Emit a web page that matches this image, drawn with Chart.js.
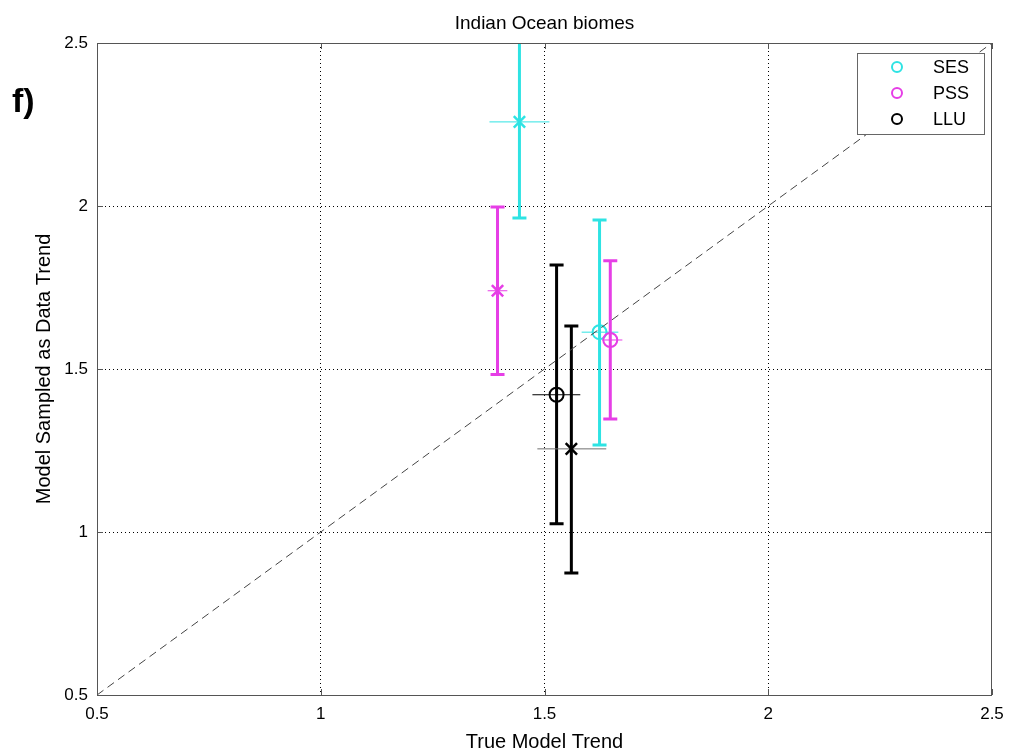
<!DOCTYPE html>
<html>
<head>
<meta charset="utf-8">
<script src="https://cdn.jsdelivr.net/npm/chart.js@4"></script>
<style>
  html, body { margin: 0; padding: 0; background: #fff; }
  #wrap { width: 1010px; height: 754px; position: relative; }
</style>
</head>
<body>
<div id="wrap"><canvas id="chart"></canvas></div>
<script>
// Indian Ocean biomes - true vs sampled trend

const seriesNames = ['SES', 'PSS', 'LLU'];
const seriesColors = ['#2ee3e3', '#e63ee6', '#000000'];

// circle markers (o)
const circleX = [1.623, 1.647, 1.527];
const circleY = [1.613, 1.589, 1.421];
const circleXLo = [1.583, 1.629, 1.473];
const circleXHi = [1.665, 1.674, 1.580];
const circleYLo = [1.267, 1.347, 1.025];
const circleYHi = [1.957, 1.832, 1.819];

// cross markers (x)
const crossX = [1.444, 1.395, 1.560];
const crossY = [2.258, 1.740, 1.255];
const crossXLo = [1.377, 1.373, 1.484];
const crossXHi = [1.511, 1.417, 1.638];
const crossYLo = [1.963, 1.483, 0.874];
const crossYHi = [2.557, 1.997, 1.632];

const axisTicks = [0.5, 1, 1.5, 2, 2.5];

const FONT = 'Liberation Sans, Arial, Helvetica, sans-serif';

// error bars drawn through the chart scales
const errorBars = {
  id: 'errorBars',
  beforeDatasetsDraw(chart) {
    const { ctx, chartArea: a, scales: { x, y } } = chart;
    ctx.save();
    ctx.beginPath();
    ctx.rect(a.left, a.top, a.right - a.left, a.bottom - a.top);
    ctx.clip();
    const groups = [
      [circleX, circleY, circleXLo, circleXHi, circleYLo, circleYHi],
      [crossX, crossY, crossXLo, crossXHi, crossYLo, crossYHi]
    ];
    groups.forEach(([gx, gy, xlo, xhi, ylo, yhi], gi) => {
      seriesNames.forEach((n, i) => {
        const px = x.getPixelForValue(gx[i]);
        const py = y.getPixelForValue(gy[i]);
        // horizontal (thin, no caps)
        ctx.strokeStyle = (i === 2 && gi === 1) ? '#707070' : seriesColors[i];
        ctx.lineWidth = 1;
        ctx.beginPath();
        ctx.moveTo(x.getPixelForValue(xlo[i]), py);
        ctx.lineTo(x.getPixelForValue(xhi[i]), py);
        ctx.stroke();
        // vertical (thick, with caps)
        const t = y.getPixelForValue(yhi[i]);
        const b = y.getPixelForValue(ylo[i]);
        ctx.strokeStyle = seriesColors[i];
        ctx.lineWidth = 3;
        ctx.beginPath();
        ctx.moveTo(px, t); ctx.lineTo(px, b);
        ctx.moveTo(px - 7, t); ctx.lineTo(px + 7, t);
        ctx.moveTo(px - 7, b); ctx.lineTo(px + 7, b);
        ctx.stroke();
      });
    });
    ctx.restore();
  }
};

// box, inner tick marks, title, legend and panel label
const decorations = {
  id: 'decorations',
  afterDraw(chart) {
    const { ctx, chartArea: a, scales: { x, y } } = chart;
    ctx.save();
    ctx.strokeStyle = '#555';
    ctx.lineWidth = 1;
    ctx.strokeRect(a.left + 0.5, a.top + 0.5, a.right - a.left - 1, a.bottom - a.top);
    ctx.beginPath();
    axisTicks.forEach(v => {
      const px = Math.round(x.getPixelForValue(v)) + 0.5;
      ctx.moveTo(px, a.top); ctx.lineTo(px, a.top + 6);
      ctx.moveTo(px, a.bottom); ctx.lineTo(px, a.bottom - 6);
      const py = Math.round(y.getPixelForValue(v)) + 0.5;
      ctx.moveTo(a.left, py); ctx.lineTo(a.left + 6, py);
      ctx.moveTo(a.right, py); ctx.lineTo(a.right - 6, py);
    });
    ctx.stroke();

    // title over the plot area
    ctx.fillStyle = '#000';
    ctx.font = '19px ' + FONT;
    ctx.textAlign = 'center';
    ctx.textBaseline = 'alphabetic';
    ctx.fillText('Indian Ocean biomes', (a.left + a.right) / 2, 29);

    // legend
    const lx = 857, ly = 53, lw = 127, lh = 81;
    ctx.fillStyle = '#fff';
    ctx.fillRect(lx, ly, lw, lh);
    ctx.strokeStyle = '#666';
    ctx.strokeRect(lx + 0.5, ly + 0.5, lw, lh);
    ctx.font = '18px ' + FONT;
    ctx.textBaseline = 'middle';
    ctx.textAlign = 'left';
    seriesNames.forEach((n, i) => {
      const cy = ly + 14 + i * 26;
      ctx.strokeStyle = seriesColors[i];
      ctx.lineWidth = 2;
      ctx.beginPath();
      ctx.arc(lx + 40, cy, 5, 0, Math.PI * 2);
      ctx.stroke();
      ctx.fillStyle = '#000';
      ctx.fillText(n, lx + 76, cy + 1);
    });

    ctx.font = 'bold 34px ' + FONT;
    ctx.fillStyle = '#000';
    ctx.textBaseline = 'alphabetic';
    ctx.fillText('f)', 12, 112);
    ctx.restore();
  }
};

const gridColor = c => (c.tick && c.tick.value > 0.5 && c.tick.value < 2.5) ? '#000' : 'rgba(0,0,0,0)';

const datasets = [
  {
    type: 'line',
    data: [{ x: 0.5, y: 0.5 }, { x: 2.5, y: 2.5 }],
    borderColor: '#444',
    borderWidth: 1,
    borderDash: [8, 5],
    pointRadius: 0
  },
  {
    data: circleX.map((v, i) => ({ x: v, y: circleY[i] })),
    pointStyle: 'circle',
    pointRadius: 7,
    pointBorderWidth: 2,
    pointBorderColor: seriesColors,
    pointBackgroundColor: 'rgba(0,0,0,0)'
  },
  {
    data: crossX.map((v, i) => ({ x: v, y: crossY[i] })),
    pointStyle: 'crossRot',
    pointRadius: 8,
    pointBorderWidth: 2.5,
    pointBorderColor: seriesColors
  }
];

new Chart(document.getElementById('chart'), {
  type: 'scatter',
  data: { datasets },
  options: {
    responsive: true,
    maintainAspectRatio: false,
    animation: false,
    layout: { padding: { left: 0, right: 18, top: 43, bottom: 0 } },
    plugins: {
      legend: { display: false },
      tooltip: { enabled: false },
      title: { display: false }
    },
    scales: {
      x: {
        type: 'linear',
        min: 0.5, max: 2.5,
        afterBuildTicks: s => { s.ticks = axisTicks.map(v => ({ value: v })); },
        afterFit: s => { s.height = 59; s.paddingLeft = 0; s.paddingRight = 0; },
        ticks: { color: '#000', font: { size: 17, family: FONT }, padding: 9, maxRotation: 0, callback: v => String(v) },
        grid: { color: gridColor, drawTicks: false, lineWidth: 1 },
        border: { display: false, dash: [1, 3] },
        title: {
          display: true, text: 'True Model Trend', color: '#000',
          font: { size: 20, family: FONT }, padding: { top: 0, bottom: 0 }
        }
      },
      y: {
        type: 'linear',
        min: 0.5, max: 2.5,
        afterBuildTicks: s => { s.ticks = axisTicks.map(v => ({ value: v })); },
        afterFit: s => { s.width = 97; s.paddingTop = 0; s.paddingBottom = 0; },
        ticks: { color: '#000', font: { size: 17, family: FONT }, padding: 9, callback: v => String(v) },
        grid: { color: gridColor, drawTicks: false, lineWidth: 1 },
        border: { display: false, dash: [1, 3] },
        title: {
          display: true, text: 'Model Sampled as Data Trend', color: '#000',
          font: { size: 20, family: FONT }, padding: { top: 32, bottom: 0 }
        }
      }
    }
  },
  plugins: [errorBars, decorations]
});
</script>
</body>
</html>
